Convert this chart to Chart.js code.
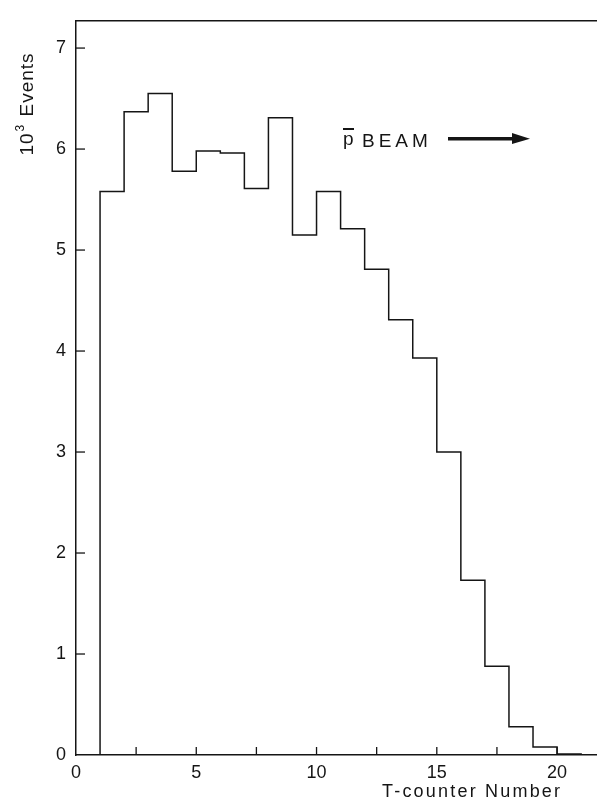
<!DOCTYPE html>
<html><head><meta charset="utf-8">
<script src="https://cdn.jsdelivr.net/npm/chart.js@4.4.0/dist/chart.umd.min.js"></script>
<style>html,body{margin:0;padding:0;background:#fff;overflow:hidden}#wrap{width:597px;height:805px}</style>
</head><body><div id="wrap"><canvas id="c" width="597" height="805"></canvas></div>
<script>
// ---- data ----
const binStarts = [1,2,3,4,5,6,7,8,9,10,11,12,13,14,15,16,17,18,19,20];
const binWidth = 1;
const events = [5.58,6.37,6.55,5.78,5.98,5.96,5.61,6.31,5.15,5.58,5.21,4.81,4.31,3.93,3.00,1.73,0.88,0.28,0.08,0.01];
const xTickValues = [0,5,10,15,20];
const xMinorTickValues = [2.5,7.5,12.5,17.5];
const yTickValues = [0,1,2,3,4,5,6,7];
const xTitle = 'T-counter Number';
const yTitleBase = '10', yTitleSup = '3', yTitleRest = ' Events';
const beamLabel = 'BEAM';

const INK = '#151515';
const FONT = '"Liberation Sans", Arial, sans-serif';

// histogram outline points: each bin's value at its left edge; final point closes the last bin
const pts = [{x: binStarts[0], y: 0}];
binStarts.forEach((s, i) => pts.push({x: s, y: events[i]}));
pts.push({x: binStarts[binStarts.length-1] + binWidth, y: 0});

const decor = {
  id: 'decor',
  afterDraw(chart) {
    const {ctx, chartArea: a, scales: {x, y}} = chart;
    ctx.save();
    ctx.strokeStyle = INK; ctx.lineWidth = 1.5;
    ctx.beginPath(); ctx.moveTo(a.left, a.top); ctx.lineTo(a.right, a.top); ctx.stroke();
    ctx.lineWidth = 1.3;
    yTickValues.forEach(v => { if (v === 0) return; const py = y.getPixelForValue(v);
      ctx.beginPath(); ctx.moveTo(a.left, py); ctx.lineTo(a.left + 9, py); ctx.stroke(); });
    xTickValues.concat(xMinorTickValues).forEach(v => { if (v === 0) return; const px = x.getPixelForValue(v);
      ctx.beginPath(); ctx.moveTo(px, a.bottom); ctx.lineTo(px, a.bottom - 8); ctx.stroke(); });
    ctx.fillStyle = INK;
    // y title (rotated)
    ctx.save();
    ctx.translate(33, 104); ctx.rotate(-Math.PI/2);
    ctx.textBaseline = 'alphabetic';
    ctx.letterSpacing = '1px';
    ctx.font = '19px ' + FONT;
    const w1 = ctx.measureText(yTitleBase).width;
    ctx.font = '12px ' + FONT;
    const w2 = ctx.measureText(yTitleSup).width;
    ctx.font = '19px ' + FONT;
    const w3 = ctx.measureText(yTitleRest).width;
    let sx = -(w1 + w2 + 2 + w3) / 2;
    ctx.fillText(yTitleBase, sx, 0); sx += w1 + 1;
    ctx.font = '12px ' + FONT; ctx.fillText(yTitleSup, sx, -9); sx += w2 + 1;
    ctx.font = '19px ' + FONT; ctx.fillText(yTitleRest, sx, 0);
    ctx.restore();
    // x title
    ctx.font = '18px ' + FONT; ctx.textAlign = 'left';
    ctx.letterSpacing = '2.2px';
    ctx.fillText(xTitle, 382, 797);
    // beam label
    ctx.font = '19px ' + FONT; ctx.letterSpacing = '0px';
    ctx.fillText('p', 343, 145);
    ctx.fillRect(343, 128, 11, 2);
    ctx.letterSpacing = '4px';
    ctx.fillText(beamLabel, 362, 147);
    ctx.letterSpacing = '0px';
    // arrow
    ctx.fillRect(448, 137, 67, 3.5);
    ctx.beginPath(); ctx.moveTo(512, 133); ctx.lineTo(530, 138.7); ctx.lineTo(512, 144); ctx.closePath(); ctx.fill();
    ctx.restore();
  }
};

new Chart(document.getElementById('c'), {
  type: 'line',
  data: { datasets: [{ data: pts, stepped: 'before', borderColor: INK, borderWidth: 1.5, pointRadius: 0, fill: false }] },
  options: {
    responsive: false, animation: false, devicePixelRatio: 1,
    layout: { padding: { top: 13, left: 0, right: 0, bottom: 0 } },
    plugins: { legend: { display: false }, tooltip: { enabled: false } },
    scales: {
      x: { type: 'linear', min: 0, max: 21.66,
        afterFit: s => { s.height = 50; },
        afterBuildTicks: s => { s.ticks = xTickValues.map(v => ({value: v})); },
        grid: { display: false, drawTicks: false },
        border: { display: true, color: INK, width: 1.5 },
        ticks: { font: { family: FONT, size: 18 }, color: INK, padding: 7, maxRotation: 0, autoSkip: false }
      },
      y: { type: 'linear', min: 0, max: 7.27,
        afterFit: s => { s.width = 76; },
        afterBuildTicks: s => { s.ticks = yTickValues.map(v => ({value: v})); },
        grid: { display: false, drawTicks: false },
        border: { display: true, color: INK, width: 1.5 },
        ticks: { font: { family: FONT, size: 18 }, color: INK, padding: 10, autoSkip: false }
      }
    }
  },
  plugins: [decor]
});
</script></body></html>
